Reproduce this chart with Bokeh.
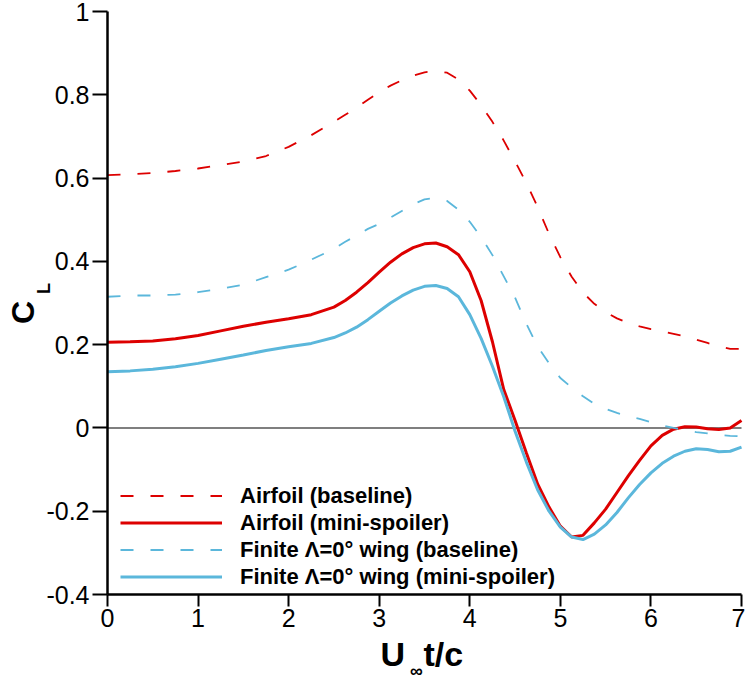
from bokeh.plotting import figure
from bokeh.models import Range1d, Label, Legend, LegendItem, FixedTicker, LinearAxis
from bokeh.embed import file_html
from bokeh.resources import INLINE

# ---- data ----
t = [0.0, 0.25, 0.5, 0.75, 1.0, 1.25, 1.5, 1.75, 2.0, 2.25,
     2.5, 2.625, 2.75, 2.875, 3.0, 3.125, 3.25, 3.375, 3.5, 3.625,
     3.75, 3.875, 4.0, 4.125, 4.25, 4.375, 4.5, 4.625, 4.75, 4.875,
     5.0, 5.125, 5.25, 5.375, 5.5, 5.625, 5.75, 5.875, 6.0, 6.125,
     6.25, 6.375, 6.5, 6.625, 6.75, 6.875, 7.0]

airfoil_baseline = [0.607, 0.609, 0.612, 0.617, 0.623, 0.631, 0.640, 0.653, 0.675, 0.703,
                    0.735, 0.752, 0.769, 0.788, 0.806, 0.822, 0.835, 0.846, 0.854, 0.857,
                    0.853, 0.837, 0.810, 0.775, 0.735, 0.690, 0.640, 0.588, 0.530, 0.466,
                    0.410, 0.363, 0.325, 0.298, 0.278, 0.263, 0.252, 0.244, 0.237, 0.232,
                    0.226, 0.220, 0.212, 0.204, 0.196, 0.190, 0.190]

airfoil_spoiler = [0.206, 0.207, 0.209, 0.214, 0.222, 0.233, 0.244, 0.254, 0.262, 0.272,
                   0.290, 0.306, 0.326, 0.349, 0.374, 0.398, 0.418, 0.433, 0.442, 0.444,
                   0.435, 0.416, 0.375, 0.306, 0.207, 0.092, 0.018, -0.060, -0.135, -0.190,
                   -0.236, -0.262, -0.258, -0.228, -0.195, -0.155, -0.115, -0.078, -0.043, -0.018,
                   -0.003, 0.003, 0.002, -0.002, -0.004, 0.000, 0.018]

wing_baseline = [0.315, 0.318, 0.318, 0.320, 0.326, 0.334, 0.344, 0.362, 0.380, 0.404,
                 0.430, 0.447, 0.462, 0.478, 0.490, 0.505, 0.521, 0.537, 0.549, 0.552,
                 0.545, 0.524, 0.495, 0.458, 0.415, 0.364, 0.313, 0.250, 0.195, 0.155,
                 0.120, 0.097, 0.076, 0.058, 0.046, 0.036, 0.028, 0.022, 0.014, 0.006,
                 0.000, -0.005, -0.010, -0.013, -0.017, -0.019, -0.020]

wing_spoiler = [0.135, 0.137, 0.141, 0.147, 0.155, 0.165, 0.175, 0.186, 0.195, 0.203,
                0.217, 0.228, 0.242, 0.260, 0.280, 0.300, 0.317, 0.331, 0.340, 0.342,
                0.335, 0.315, 0.272, 0.215, 0.148, 0.075, -0.008, -0.082, -0.149, -0.200,
                -0.238, -0.262, -0.268, -0.255, -0.233, -0.203, -0.168, -0.136, -0.108, -0.085,
                -0.068, -0.056, -0.050, -0.052, -0.057, -0.056, -0.046]

series_labels = ["Airfoil (baseline)", "Airfoil (mini-spoiler)",
                 "Finite \u039b=0\u00b0 wing (baseline)", "Finite \u039b=0\u00b0 wing (mini-spoiler)"]

x_ticks = [0, 1, 2, 3, 4, 5, 6, 7]
y_ticks = [-0.4, -0.2, 0.0, 0.2, 0.4, 0.6, 0.8, 1.0]
y_tick_labels = ["-0.4", "-0.2", "0", "0.2", "0.4", "0.6", "0.8", "1"]

RED = "#DD0000"
BLUE = "#5BB7DB"
FONT = "Liberation Sans"

# ---- layout: where the axes box sits on the 745x680 canvas ----
W, H = 745, 680
PX_L, PX_R, PX_T, PX_B = 107, 741, 11, 594
X0, X1 = x_ticks[0], x_ticks[-1]
Y0, Y1 = y_ticks[0], y_ticks[-1]
sx = (X1 - X0) / (PX_R - PX_L)   # data per pixel
sy = (Y1 - Y0) / (PX_B - PX_T)
x_range = Range1d(X0 - PX_L * sx, X1 + (W - PX_R) * sx)
y_range = Range1d(Y0 - (H - PX_B) * sy, Y1 + PX_T * sy)

p = figure(width=W, height=H, output_backend="svg", toolbar_location=None,
           x_range=x_range, y_range=y_range, x_axis_type=None, y_axis_type=None,
           min_border=0, min_border_left=0, min_border_right=0,
           min_border_top=0, min_border_bottom=0)
p.outline_line_color = None
p.background_fill_color = "white"
p.border_fill_color = "white"

xaxis = LinearAxis(fixed_location=Y0, bounds=(X0, X1), ticker=FixedTicker(ticks=x_ticks))
yaxis = LinearAxis(fixed_location=X0, bounds=(Y0, Y1), ticker=FixedTicker(ticks=y_ticks),
                   major_label_overrides={v: s for v, s in zip(y_ticks, y_tick_labels)})
for ax in (xaxis, yaxis):
    ax.axis_line_width = 2.5
    ax.axis_line_color = "black"
    ax.major_tick_line_width = 2
    ax.major_tick_line_color = "black"
    ax.minor_tick_line_color = None
    ax.major_tick_in = 0
    ax.major_label_text_font = FONT
    ax.major_label_text_font_size = "25px"
    ax.major_label_text_color = "black"
xaxis.major_tick_out = 12
xaxis.major_label_standoff = 2
yaxis.major_tick_out = 15
yaxis.major_label_standoff = 3
p.add_layout(xaxis, "below")
p.add_layout(yaxis, "left")

# zero reference line across the axes box
p.segment(x0=[X0], y0=[0], x1=[X1], y1=[0], line_color="#7F7F7F", line_width=2)

r1 = p.line(t, airfoil_baseline, line_color=RED, line_width=1.8, line_dash="13 17")
r2 = p.line(t, airfoil_spoiler, line_color=RED, line_width=3)
r3 = p.line(t, wing_baseline, line_color=BLUE, line_width=1.8, line_dash="13 17")
r4 = p.line(t, wing_spoiler, line_color=BLUE, line_width=3)

legend = Legend(items=[LegendItem(label=lab, renderers=[r]) for lab, r in zip(series_labels, [r1, r2, r3, r4])],
                location=(120, H - 590), glyph_width=102, glyph_height=27, label_height=27,
                label_standoff=18, spacing=0, padding=0, margin=0,
                border_line_alpha=0, background_fill_alpha=0,
                label_text_font=FONT, label_text_font_style="bold", label_text_font_size="22px",
                label_text_color="black")
p.add_layout(legend)

# axis titles (screen units: x from left, y up from bottom of the canvas-sized frame)
def lab(text, px, py, size, align="left", angle=0.0):
    p.add_layout(Label(x=px, y=H - py, x_units="screen", y_units="screen",
                       text=text, text_font=FONT, text_font_style="bold",
                       text_font_size=size, text_color="black", text_align=align,
                       text_baseline="alphabetic", angle=angle))

# y-axis title C_L (rotated)
lab("C", 22, 312, "32px", align="center", angle=1.5708)
lab("L", 43, 288, "18px", align="center", angle=1.5708)
# x-axis title U_inf t/c
lab("U", 380, 653, "34px")
lab("\u221e", 416, 670, "18px", align="center")
lab("t/c", 423, 653, "34px")

open("out.html", "w").write(file_html(p, INLINE))
